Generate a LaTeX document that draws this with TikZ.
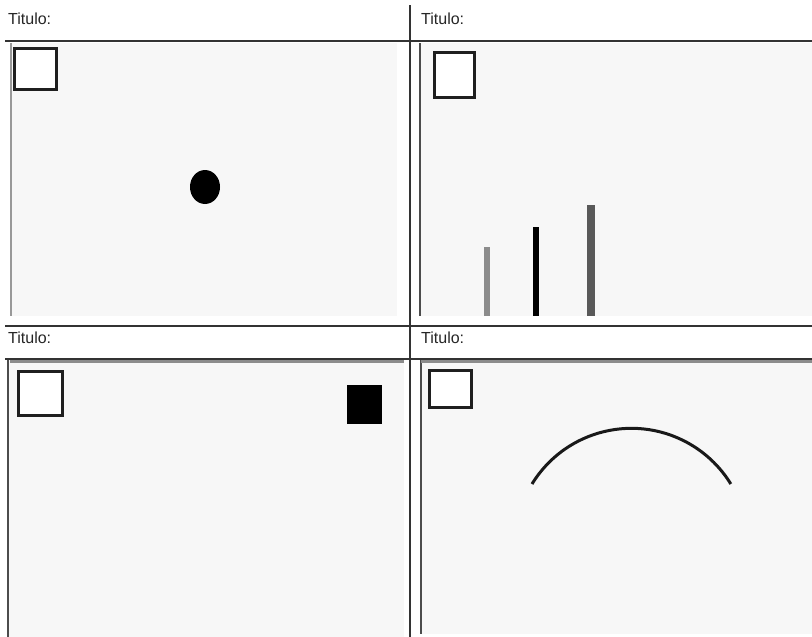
\documentclass[tikz,border=0pt]{standalone}
\usepackage{fontspec}
\setmainfont{Liberation Sans}
\begin{document}
\begin{tikzpicture}[x=1pt,y=-1pt,
  titletext/.style={anchor=base west,inner sep=0pt,font=\fontsize{16}{18}\selectfont,text=black!85},
  rule/.style={draw=black!80,line width=1.5pt},
  panel/.style={fill=black!3,draw=none},
  pborder/.style={draw=black!70,line width=2pt},
  smallsq/.style={draw=black!88,line width=3pt,fill=white}]
\useasboundingbox (0,0) rectangle (812,637);
\fill[white] (0,0) rectangle (812,637);
% panels
\path[panel] (10,43) rectangle (397,316);
\path[panel] (420,43) rectangle (812,316);
\path[panel] (8,360) rectangle (404,637);
\path[panel] (420,360) rectangle (812,634);
\draw[pborder,draw=black!40] (11,43) -- (11,316);
\draw[pborder] (420,43) -- (420,316);
\draw[pborder] (8,360) -- (8,637);
\draw[pborder] (421,360) -- (421,634);
\draw[draw=black!45,line width=3pt] (10,361) -- (404,361);
\draw[draw=black!45,line width=3pt] (421,361) -- (812,361);
% rules
\draw[rule] (5,41) -- (812,41);
\draw[rule] (5,326) -- (812,326);
\draw[rule] (5,359) -- (812,359);
\draw[rule] (410,5) -- (410,637);
% titles
\node[titletext] (t1) at (8,24) {Titulo:};
\node[titletext] (t2) at (421,24) {Titulo:};
\node[titletext] (t3) at (8,343) {Titulo:};
\node[titletext] (t4) at (421,343) {Titulo:};
% small squares
\draw[smallsq] (14,48) rectangle (56,89);
\draw[smallsq] (434,52) rectangle (474,97);
\draw[smallsq] (18,371) rectangle (62,415);
\draw[smallsq] (429,370) rectangle (471,407);
% panel 1: dot
\fill[black] (205,187) ellipse [x radius=15, y radius=17];
% panel 2: bars
\fill[black!45] (484,247) rectangle (490,316);
\fill[black] (533,227) rectangle (539,316);
\fill[black!65] (587,205) rectangle (595,316);
% panel 3: black square
\fill[black] (347,385) rectangle (382,424);
% panel 4: arc
\draw[black!90,line width=3pt] (532,484) arc[start angle=-148.5,end angle=-31.5,radius=116.6];
\end{tikzpicture}
\end{document}
